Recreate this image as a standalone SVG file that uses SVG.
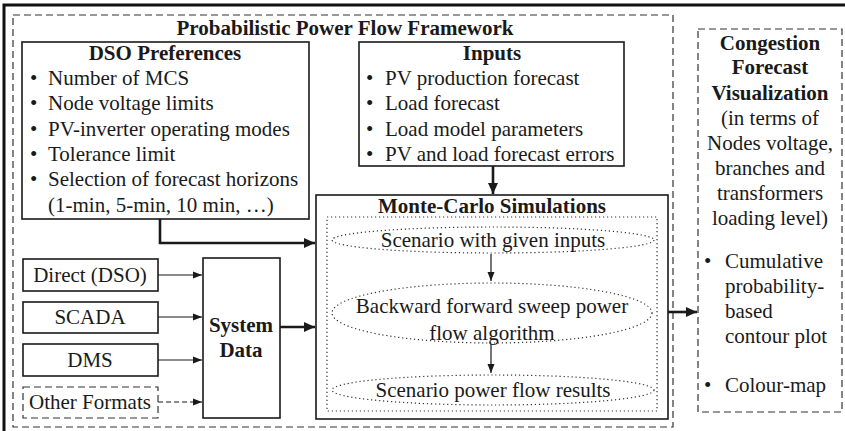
<svg xmlns="http://www.w3.org/2000/svg" width="845" height="431" viewBox="0 0 845 431">
<defs>
<style>
text{font-family:"Liberation Serif","Times New Roman",serif;fill:#1a1a1a}
.t{font-size:21px}
.b{font-size:21px;font-weight:bold}
.c{text-anchor:middle}
.box{fill:#fff;stroke:#1a1a1a;stroke-width:1.6}
.dash{fill:none;stroke:#333;stroke-width:1.2;stroke-dasharray:7 4}
.dot{fill:none;stroke:#333;stroke-width:1.2;stroke-dasharray:1.2 2.8}
.thick{fill:none;stroke:#1a1a1a;stroke-width:2.6}
.thin{fill:none;stroke:#1a1a1a;stroke-width:1.2}
</style>
<marker id="ah" markerUnits="userSpaceOnUse" markerWidth="12" markerHeight="10" refX="11" refY="5" orient="auto"><path d="M0,0 L11,5 L0,10 z" fill="#1a1a1a"/></marker>
<marker id="as" markerUnits="userSpaceOnUse" markerWidth="10" markerHeight="8" refX="9" refY="4" orient="auto"><path d="M0,0.5 L9,4 L0,7.5 z" fill="#1a1a1a"/></marker>
</defs>
<rect width="845" height="431" fill="#fff"/>
<path d="M4,431 V5 H845" fill="none" stroke="#111" stroke-width="3"/>

<g id="framework">
<rect class="dash" x="13" y="15" width="660" height="412"/>
<text class="b c" x="345" y="35">Probabilistic Power Flow Framework</text>
</g>

<g id="dso">
<rect class="box" x="22" y="42" width="287" height="177"/>
<text class="b c" x="165" y="60">DSO Preferences</text>
<text class="t" x="30" y="85">•</text><text class="t" x="48" y="85">Number of MCS</text>
<text class="t" x="30" y="110">•</text><text class="t" x="48" y="110">Node voltage limits</text>
<text class="t" x="30" y="136">•</text><text class="t" x="48" y="136">PV-inverter operating modes</text>
<text class="t" x="30" y="161">•</text><text class="t" x="48" y="161">Tolerance limit</text>
<text class="t" x="30" y="186">•</text><text class="t" x="48" y="186">Selection of forecast horizons</text>
<text class="t" x="48" y="212">(1-min, 5-min, 10 min, …)</text>
</g>

<g id="inputs">
<rect class="box" x="359" y="42" width="265" height="124"/>
<text class="b c" x="492" y="60">Inputs</text>
<text class="t" x="366" y="85">•</text><text class="t" x="385" y="85">PV production forecast</text>
<text class="t" x="366" y="110">•</text><text class="t" x="385" y="110">Load forecast</text>
<text class="t" x="366" y="136">•</text><text class="t" x="385" y="136">Load model parameters</text>
<text class="t" x="366" y="161">•</text><text class="t" x="385" y="161">PV and load forecast errors</text>
</g>

<g id="mcs">
<rect class="box" x="316" y="195" width="352" height="224" stroke-width="2"/>
<text class="b c" x="492" y="213">Monte-Carlo Simulations</text>
<rect class="dot" x="327" y="217" width="330" height="194"/>
</g>

<g id="scenario">
<ellipse class="dot" cx="493" cy="240" rx="161" ry="13"/>
<text class="t c" x="493" y="247">Scenario with given inputs</text>
</g>
<g id="bfs">
<ellipse class="dot" cx="492" cy="313" rx="160" ry="30"/>
<text class="t c" x="492" y="313">Backward forward sweep power</text>
<text class="t c" x="492" y="340">flow algorithm</text>
</g>
<g id="results">
<ellipse class="dot" cx="493" cy="390" rx="161" ry="15"/>
<text class="t c" x="493" y="397">Scenario power flow results</text>
</g>

<g id="direct">
<rect class="box" x="23" y="259" width="135" height="32" stroke-width="1.2"/>
<text class="t c" x="90" y="282">Direct (DSO)</text>
</g>
<g id="scada">
<rect class="box" x="23" y="302" width="135" height="31" stroke-width="1.2"/>
<text class="t c" x="90" y="324">SCADA</text>
</g>
<g id="dms">
<rect class="box" x="23" y="344" width="135" height="32" stroke-width="1.2"/>
<text class="t c" x="90" y="367">DMS</text>
</g>
<g id="other">
<rect class="dash" x="23" y="387" width="135" height="31" stroke-dasharray="5 3"/>
<text class="t c" x="90" y="409">Other Formats</text>
</g>
<g id="system">
<rect class="box" x="203" y="258" width="77" height="160"/>
<text class="b c" x="241" y="332">System</text>
<text class="b c" x="241" y="357">Data</text>
</g>

<g id="congestion">
<rect class="dash" x="698" y="29" width="144" height="383"/>
<text class="b c" x="770" y="50">Congestion</text>
<text class="b c" x="770" y="74">Forecast</text>
<text class="b c" x="770" y="100">Visualization</text>
<text class="t c" x="770" y="125">(in terms of</text>
<text class="t c" x="770" y="150">Nodes voltage,</text>
<text class="t c" x="770" y="175">branches and</text>
<text class="t c" x="770" y="200">transformers</text>
<text class="t c" x="770" y="225">loading level)</text>
<text class="t" x="704" y="268">•</text><text class="t" x="725" y="268">Cumulative</text>
<text class="t" x="725" y="293">probability-</text>
<text class="t" x="725" y="318">based</text>
<text class="t" x="725" y="343">contour plot</text>
<text class="t" x="704" y="392">•</text><text class="t" x="725" y="392">Colour-map</text>
</g>

<g id="connectors">
<path class="thick" d="M493,166 V194" marker-end="url(#ah)"/>
<path class="thick" d="M160,219 V243 H315" marker-end="url(#ah)"/>
<path class="thick" d="M280,327 H315" marker-end="url(#ah)"/>
<path class="thick" d="M668,312 H697" marker-end="url(#ah)"/>
<path class="thin" d="M491,254 V281" marker-end="url(#as)"/>
<path class="thin" d="M491,344 V373" marker-end="url(#as)"/>
<path class="thin" d="M158,275 H202" marker-end="url(#as)"/>
<path class="thin" d="M158,317 H202" marker-end="url(#as)"/>
<path class="thin" d="M158,360 H202" marker-end="url(#as)"/>
<path class="thin" d="M158,402 H202" stroke-dasharray="5 3" marker-end="url(#as)"/>
</g>
</svg>
